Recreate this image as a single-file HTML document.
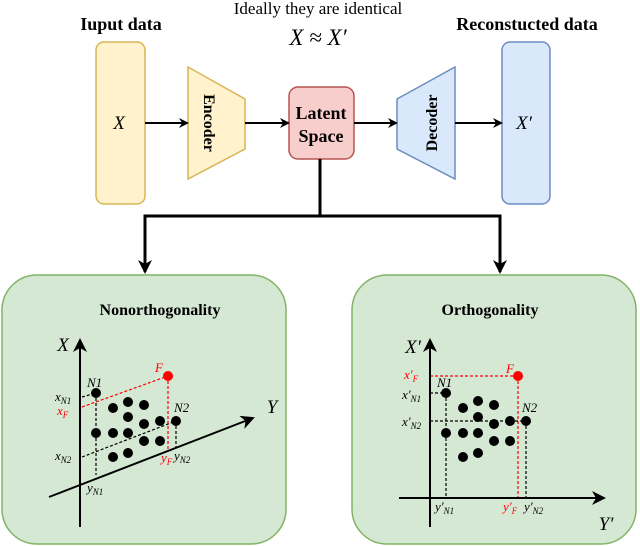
<!DOCTYPE html>
<html><head><meta charset="utf-8"><style>html,body{margin:0;padding:0;background:#fff}svg{display:block}</style></head>
<body>
<svg width="640" height="546" viewBox="0 0 640 546" xmlns="http://www.w3.org/2000/svg" font-family="'Liberation Serif', serif">
<defs>
<marker id="a" markerWidth="10" markerHeight="10" refX="8" refY="5" orient="auto" markerUnits="userSpaceOnUse"><path d="M0,0 L10,5 L0,10 L3,5 Z" fill="#000"/></marker>
<marker id="b" markerWidth="14" markerHeight="14" refX="12" refY="7" orient="auto" markerUnits="userSpaceOnUse"><path d="M0,0 L14,7 L0,14 L4,7 Z" fill="#000"/></marker>
</defs>
<!-- top -->
<text x="318" y="14" font-size="17" text-anchor="middle">Ideally they are identical</text>
<text x="318" y="45" font-size="23" font-style="italic" text-anchor="middle">X ≈ X′</text>
<text x="121" y="30" font-size="18" font-weight="bold" text-anchor="middle">Iuput data</text>
<text x="527" y="30" font-size="18" font-weight="bold" text-anchor="middle">Reconstucted data</text>
<rect x="96" y="42" width="49" height="162" rx="8" fill="#fff2cc" stroke="#d6b656" stroke-width="1.5"/>
<text x="119" y="129" font-size="19" font-style="italic" text-anchor="middle">X</text>
<rect x="502" y="42" width="48" height="162" rx="8" fill="#dae8fc" stroke="#6c8ebf" stroke-width="1.5"/>
<text x="524" y="129" font-size="19" font-style="italic" text-anchor="middle">X′</text>
<polygon points="188,67 245,99 245,149 188,179" fill="#fff2cc" stroke="#d6b656" stroke-width="1.5"/>
<text transform="translate(209,123) rotate(90)" font-size="16" font-weight="bold" text-anchor="middle" dy="5">Encoder</text>
<polygon points="397,99 455,67 455,179 397,149" fill="#dae8fc" stroke="#6c8ebf" stroke-width="1.5"/>
<text transform="translate(432,123) rotate(-90)" font-size="16" font-weight="bold" text-anchor="middle" dy="5">Decoder</text>
<rect x="289" y="87" width="65" height="72" rx="9" fill="#f8cecc" stroke="#b85450" stroke-width="1.5"/>
<text x="321" y="119" font-size="18" font-weight="bold" text-anchor="middle">Latent</text>
<text x="321" y="142" font-size="18" font-weight="bold" text-anchor="middle">Space</text>
<g stroke="#000" stroke-width="2" fill="none">
<line x1="145" y1="123" x2="187" y2="123" marker-end="url(#a)"/>
<line x1="245" y1="123" x2="288" y2="123" marker-end="url(#a)"/>
<line x1="354" y1="123" x2="396" y2="123" marker-end="url(#a)"/>
<line x1="455" y1="123" x2="501" y2="123" marker-end="url(#a)"/>
<polyline points="320,159 320,216 145,216 145,272" stroke-width="3" marker-end="url(#b)"/>
<polyline points="320,216 500,216 500,272" stroke-width="3" marker-end="url(#b)"/>
</g>
<!-- panels -->
<rect x="2" y="275" width="284" height="269" rx="35" fill="#d5e8d4" stroke="#82b366" stroke-width="1.5"/>
<rect x="352" y="275" width="284" height="269" rx="35" fill="#d5e8d4" stroke="#82b366" stroke-width="1.5"/>
<text x="160" y="315" font-size="16" font-weight="bold" text-anchor="middle">Nonorthogonality</text>
<text x="490" y="315" font-size="16" font-weight="bold" text-anchor="middle">Orthogonality</text>
<!-- left diagram -->
<g stroke-width="1.2" stroke-dasharray="3,2" fill="none">
<line x1="82" y1="397" x2="96" y2="393" stroke="#000"/>
<line x1="82" y1="407" x2="168" y2="376" stroke="#f00"/>
<line x1="82" y1="457" x2="176" y2="421" stroke="#000"/>
<line x1="96" y1="393" x2="96" y2="475" stroke="#000"/>
<line x1="168" y1="376" x2="168" y2="450" stroke="#f00"/>
<line x1="176" y1="421" x2="176" y2="447" stroke="#000"/>
</g>
<g stroke="#000" stroke-width="2">
<line x1="80" y1="527" x2="80" y2="340" marker-end="url(#b)"/>
<line x1="49" y1="497" x2="253" y2="418" marker-end="url(#b)"/>
</g>
<g fill="#000">
<circle cx="96" cy="393" r="5"/><circle cx="113" cy="408" r="5"/><circle cx="128" cy="402" r="5"/><circle cx="144" cy="405" r="5"/><circle cx="128" cy="417" r="5"/><circle cx="144" cy="424" r="5"/><circle cx="160" cy="421" r="5"/><circle cx="176" cy="421" r="5"/><circle cx="96" cy="433" r="5"/><circle cx="113" cy="433" r="5"/><circle cx="128" cy="433" r="5"/><circle cx="144" cy="441" r="5"/><circle cx="160" cy="441" r="5"/><circle cx="113" cy="457" r="5"/><circle cx="128" cy="453" r="5"/>
</g>
<circle cx="168" cy="376" r="5" fill="#f00"/>
<g font-style="italic" font-size="13">
<text x="63" y="351" font-size="19" text-anchor="middle">X</text>
<text x="272" y="413" font-size="19" text-anchor="middle">Y</text>
<text x="87" y="387">N1</text>
<text x="155" y="372" fill="#f00">F</text>
<text x="174" y="412">N2</text>
<text x="55" y="401">x<tspan font-size="9" dy="3">N1</tspan></text>
<text x="57" y="415" fill="#f00">x<tspan font-size="9" dy="3">F</tspan></text>
<text x="55" y="460">x<tspan font-size="9" dy="3">N2</tspan></text>
<text x="87" y="492">y<tspan font-size="9" dy="3">N1</tspan></text>
<text x="161" y="462" fill="#f00">y<tspan font-size="9" dy="3">F</tspan></text>
<text x="174" y="460">y<tspan font-size="9" dy="3">N2</tspan></text>
</g>
<!-- right diagram -->
<g stroke-width="1.2" stroke-dasharray="3,2" fill="none">
<line x1="430" y1="376" x2="518" y2="376" stroke="#f00"/>
<line x1="518" y1="376" x2="518" y2="498" stroke="#f00"/>
<line x1="430" y1="393" x2="446" y2="393" stroke="#000"/>
<line x1="446" y1="393" x2="446" y2="498" stroke="#000"/>
<line x1="430" y1="421" x2="526" y2="421" stroke="#000"/>
<line x1="526" y1="421" x2="526" y2="498" stroke="#000"/>
</g>
<g stroke="#000" stroke-width="2">
<line x1="430" y1="527" x2="430" y2="340" marker-end="url(#b)"/>
<line x1="399" y1="498" x2="604" y2="498" marker-end="url(#b)"/>
</g>
<g fill="#000">
<circle cx="446" cy="393" r="5"/><circle cx="463" cy="408" r="5"/><circle cx="478" cy="401" r="5"/><circle cx="494" cy="405" r="5"/><circle cx="478" cy="417" r="5"/><circle cx="494" cy="424" r="5"/><circle cx="510" cy="421" r="5"/><circle cx="526" cy="421" r="5"/><circle cx="446" cy="433" r="5"/><circle cx="463" cy="433" r="5"/><circle cx="478" cy="433" r="5"/><circle cx="494" cy="441" r="5"/><circle cx="510" cy="441" r="5"/><circle cx="463" cy="457" r="5"/><circle cx="478" cy="453" r="5"/>
</g>
<circle cx="518" cy="376" r="5" fill="#f00"/>
<g font-style="italic" font-size="13">
<text x="413" y="353" font-size="19" text-anchor="middle">X′</text>
<text x="606" y="530" font-size="19" text-anchor="middle">Y′</text>
<text x="437" y="387">N1</text>
<text x="506" y="373" fill="#f00">F</text>
<text x="522" y="412">N2</text>
<text x="404" y="379" fill="#f00">x′<tspan font-size="9" dy="3">F</tspan></text>
<text x="402" y="399">x′<tspan font-size="9" dy="3">N1</tspan></text>
<text x="402" y="426">x′<tspan font-size="9" dy="3">N2</tspan></text>
<text x="435" y="511">y′<tspan font-size="9" dy="3">N1</tspan></text>
<text x="503" y="511" fill="#f00">y′<tspan font-size="9" dy="3">F</tspan></text>
<text x="524" y="511">y′<tspan font-size="9" dy="3">N2</tspan></text>
</g>
</svg>
</body></html>
